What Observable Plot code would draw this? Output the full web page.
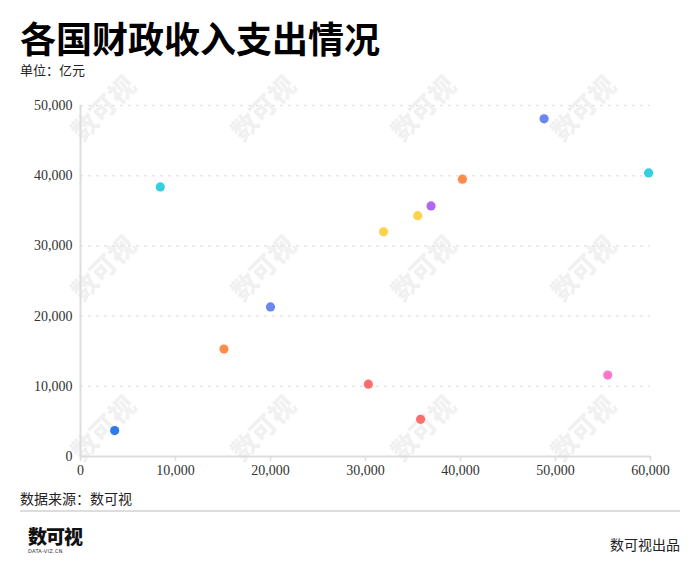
<!DOCTYPE html>
<html>
<head>
<meta charset="utf-8">
<script src="https://cdn.jsdelivr.net/npm/d3@7"></script>
<script src="https://cdn.jsdelivr.net/npm/@observablehq/plot@0.6"></script>
<style>
  html, body { margin: 0; padding: 0; background: #fff; }
  #page { position: relative; width: 700px; height: 576px; overflow: hidden;
          font-family: "Liberation Serif", "Noto Sans CJK SC", serif; color: #111; }
  .abs { position: absolute; white-space: nowrap; }
  #title { left: 20px; top: 20px; font-size: 36px; line-height: 34px; font-weight: 700;
           font-family: "Noto Sans CJK SC", sans-serif; color: #000; }
  #subtitle { left: 20px; top: 64px; font-size: 13px; line-height: 13px; color: #222; }
  #chart { position: absolute; left: 0; top: 80px; z-index: 1; }
  #wm { position: absolute; left: 25px; top: 30px; width: 650px; height: 480px; z-index: 0; }
  #source { left: 20px; top: 492px; font-size: 14px; line-height: 16px; color: #222; }
  #rule { position: absolute; left: 20px; top: 510px; width: 660px; height: 2px; background: #ddd; }
  #logo { left: 28px; top: 525px; }
  #logo .big { font-family: "Noto Sans CJK SC", sans-serif; font-weight: 900; font-size: 19px; line-height: 21px; letter-spacing: -1px; color: #111; }
  #logo .small { font-family: "DejaVu Sans", sans-serif; font-size: 5px; line-height: 6px; margin-top: 2px; color: #222; letter-spacing: 0.3px; }
  #credit { right: 20px; top: 538px; font-size: 14px; line-height: 16px; color: #222; }
</style>
</head>
<body>
<div id="page">
  <div id="title" class="abs"></div>
  <div id="subtitle" class="abs"></div>
  <div id="wm"></div>
  <div id="chart"></div>
  <div id="source" class="abs"></div>
  <div id="rule"></div>
  <div id="logo" class="abs"><div class="big">数可视</div><div class="small">DATA-VIZ.CN</div></div>
  <div id="credit" class="abs"></div>
</div>
<script>
// ---- data ----
const titleText = "各国财政收入支出情况";
const subtitleText = "单位：亿元";
const sourceText = "数据来源：数可视";
const creditText = "数可视出品";

const revenue = [8400, 48800, 59800, 40200, 36900, 35500, 31900, 20000, 15100, 3600, 30300, 35800, 55500];
const expenditure = [38400, 48100, 40400, 39500, 35700, 34300, 32000, 21300, 15300, 3700, 10300, 5300, 11600];
const pointColors = ["#33d1de", "#6a86f0", "#33d1de", "#ff8c4a", "#b266f2", "#ffd24d", "#ffd24d",
                     "#6a86f0", "#ff8c4a", "#2e7be6", "#ff6e6e", "#ff6e6e", "#ff77c8"];

const xTicks = [0, 10000, 20000, 30000, 40000, 50000, 60000];
const yTicks = [0, 10000, 20000, 30000, 40000, 50000];

// ---- build ----
document.getElementById("title").textContent = titleText;
document.getElementById("subtitle").textContent = subtitleText;
document.getElementById("source").textContent = sourceText;
document.getElementById("credit").textContent = creditText;

// watermark tile
const tile = `<svg xmlns='http://www.w3.org/2000/svg' width='160' height='160'><text x='80' y='80' text-anchor='middle' dominant-baseline='middle' transform='rotate(-45 80 80)' font-family='Noto Sans CJK SC' font-weight='900' font-size='26' fill='#f1f1f1'>数可视</text></svg>`;
const wm = document.getElementById("wm");
wm.style.backgroundImage = `url("data:image/svg+xml;utf8,${encodeURIComponent(tile)}")`;
wm.style.backgroundRepeat = "repeat";

const data = revenue.map((r, i) => ({x: r, y: expenditure[i], c: pointColors[i]}));

const plot = Plot.plot({
  width: 700,
  height: 406,
  marginLeft: 80,
  marginRight: 50,
  marginTop: 25,
  marginBottom: 30,
  style: {fontFamily: '"Liberation Serif", "Noto Sans CJK SC", serif', fontSize: "14px", background: "transparent", color: "#333"},
  x: {domain: [0, 60000]},
  y: {domain: [0, 50000]},
  marks: [
    Plot.gridY(yTicks.filter(d => d > 0), {stroke: "#e6e6e6", strokeOpacity: 1, strokeWidth: 1.5, strokeDasharray: "3,5"}),
    Plot.axisY(yTicks, {tickSize: 0, tickPadding: 8, label: null, fill: "#333"}),
    Plot.axisX(xTicks, {tickSize: 5, tickPadding: 4, stroke: "#ddd", strokeWidth: 1.5, fill: "#333", label: null}),
    Plot.ruleX([0], {stroke: "#ddd", strokeWidth: 2}),
    Plot.ruleY([0], {stroke: "#ddd", strokeWidth: 2}),
    Plot.dot(data, {x: "x", y: "y", r: 4.6, fill: "c", stroke: null})
  ]
});
document.getElementById("chart").appendChild(plot);
</script>
</body>
</html>
